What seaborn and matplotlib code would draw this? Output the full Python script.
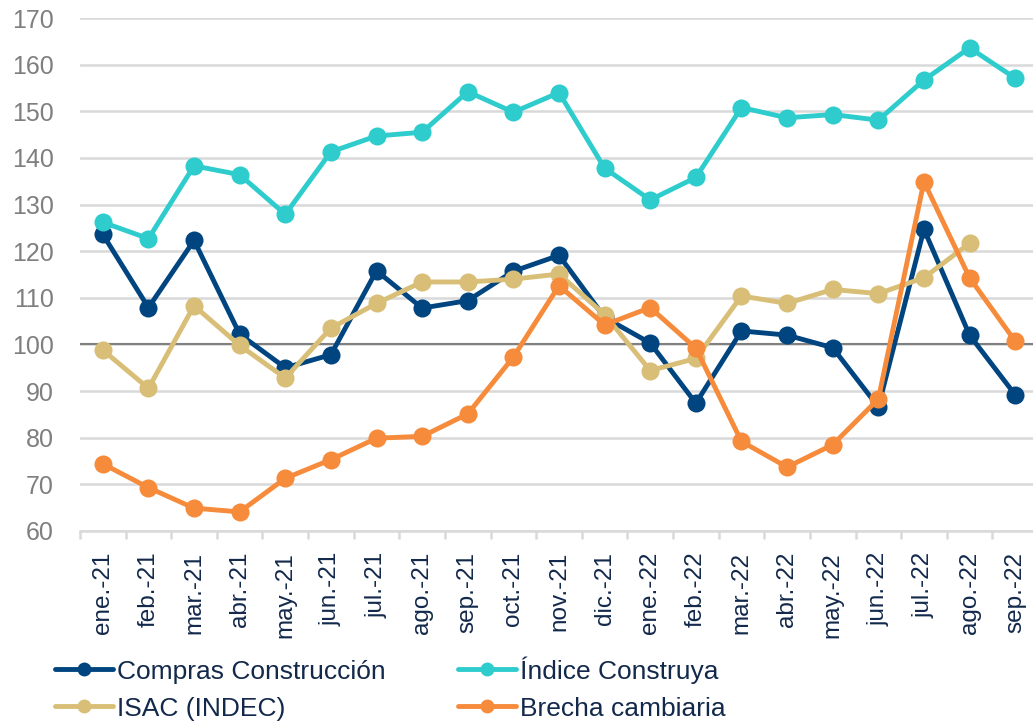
import numpy as np
import pandas as pd
import matplotlib
matplotlib.use("Agg")
import matplotlib.pyplot as plt
import seaborn as sns
from matplotlib.lines import Line2D

months = ["ene.-21", "feb.-21", "mar.-21", "abr.-21", "may.-21", "jun.-21", "jul.-21",
          "ago.-21", "sep.-21", "oct.-21", "nov.-21", "dic.-21", "ene.-22", "feb.-22",
          "mar.-22", "abr.-22", "may.-22", "jun.-22", "jul.-22", "ago.-22", "sep.-22"]

compras = [123.6, 107.9, 122.3, 102.2, 95.0, 97.8, 115.8, 107.8, 109.4, 115.7, 119.1,
           105.8, 100.3, 87.4, 102.9, 102.0, 99.3, 86.6, 124.7, 102.0, 89.2]
construya = [126.2, 122.7, 138.3, 136.4, 127.9, 141.3, 144.7, 145.5, 154.2, 149.8, 154.0,
             137.8, 131.0, 135.8, 150.8, 148.6, 149.3, 148.1, 156.7, 163.6, 157.1]
isac = [98.8, 90.6, 108.3, 99.8, 92.8, 103.5, 108.8, 113.4, 113.4, 114.0, 115.1,
        106.4, 94.4, 97.0, 110.4, 108.8, 111.8, 110.9, 114.3, 121.7, np.nan]
brecha = [74.4, 69.3, 64.9, 64.1, 71.3, 75.3, 79.9, 80.3, 85.1, 97.3, 112.6,
          104.2, 107.9, 99.2, 79.2, 73.7, 78.5, 88.3, 134.9, 114.3, 100.7]

series_names = ["Compras Construcción", "Índice Construya", "ISAC (INDEC)", "Brecha cambiaria"]
series_values = [compras, construya, isac, brecha]
colors = ["#00457F", "#2ECCCC", "#D8BE76", "#F68B3B"]

rows = []
for name, vals in zip(series_names, series_values):
    for i, v in enumerate(vals):
        rows.append({"idx": i, "mes": months[i], "serie": name, "valor": v})
df = pd.DataFrame(rows)

sns.set_theme(style="white")
plt.rcParams["font.family"] = ["Liberation Sans", "DejaVu Sans"]

W, H = 1033, 721
fig = plt.figure(figsize=(W / 100, H / 100), dpi=100)
left, right, top, bottom = 80, 1038, 18, 531
ax = fig.add_axes([left / W, 1 - bottom / H, (right - left) / W, (bottom - top) / H])

ax.axhline(100, color="#808080", lw=1.5, zorder=1.5)

sns.lineplot(data=df, x="idx", y="valor", hue="serie", hue_order=series_names,
             palette=colors, marker="o", markersize=13, markeredgewidth=0,
             linewidth=3.5, sort=False, ax=ax, legend=True, zorder=3)

ax.get_legend().remove()
leg_handles = []
for name, c in zip(series_names, colors):
    leg_handles.append(Line2D([0], [0], color=c, lw=3.5, marker="o", markersize=10,
                              markeredgewidth=0))
order = [0, 2, 1, 3]
leg = fig.legend([leg_handles[i] for i in order], [series_names[i] for i in order],
                 loc="upper left", bbox_to_anchor=(55 / W, 1 - 656 / H), ncol=2,
                 frameon=False, fontsize=19, handlelength=2.2, handletextpad=0.15,
                 columnspacing=2.75, labelspacing=0.5, borderpad=0, borderaxespad=0)
for t in leg.get_texts():
    t.set_color("#13294B")

ax.set_xlim(-0.5, len(months) - 0.5)
ax.set_ylim(60, 170)
ax.set_yticks(np.arange(60, 171, 10))
ax.yaxis.grid(True, color="#D9D9D9", lw=1.8)
ax.xaxis.grid(False)
ax.set_axisbelow(True)

ax.set_xticks(np.arange(len(months)))
ax.set_xticklabels(months, rotation=90, color="#13294B", fontsize=17.5)
ax.set_xticks(np.arange(len(months) + 1) - 0.5, minor=True)
ax.tick_params(axis="x", which="major", length=0, pad=15)
ax.tick_params(axis="x", which="minor", length=6, width=1.8, color="#D9D9D9", bottom=True)
ax.tick_params(axis="y", length=0, pad=19, labelsize=18, labelcolor="#7F7F7F")

for s in ["left", "top", "right"]:
    ax.spines[s].set_visible(False)
ax.spines["bottom"].set_color("#D9D9D9")
ax.spines["bottom"].set_linewidth(1.8)

ax.set_xlabel("")
ax.set_ylabel("")

fig.savefig("out.png", dpi=100)
